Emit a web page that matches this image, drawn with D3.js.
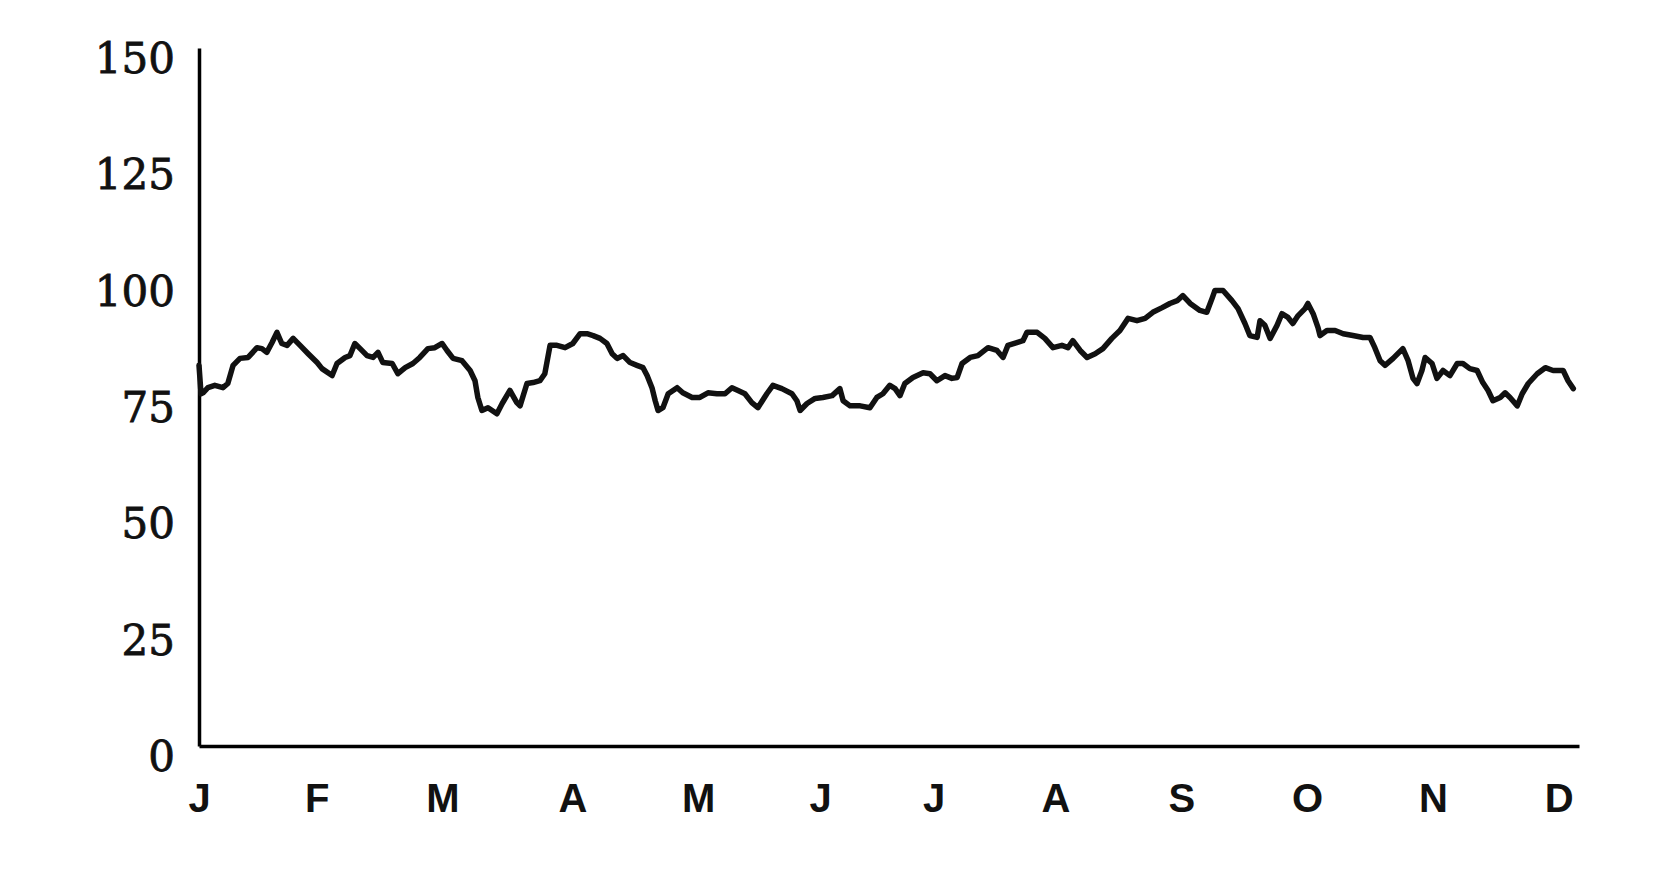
<!DOCTYPE html>
<html>
<head>
<meta charset="utf-8">
<script src="https://cdn.jsdelivr.net/npm/d3@7"></script>
<style>
  html, body { margin: 0; padding: 0; background: #fff; }
  svg { display: block; }
</style>
</head>
<body>
<svg id="chart" width="1663" height="870"></svg>
<script>
// ---- data ----
const monthLabels = ["J","F","M","A","M","J","J","A","S","O","N","D"];
const monthLabelDays = [0, 29, 60, 92, 123, 153, 181, 211, 242, 273, 304, 335];
const yTickValues = [0, 25, 50, 75, 100, 125, 150];

const days = [
  0, 0.5, 1.0, 2.2, 3.9, 5.9, 7.1, 8.4, 10.1, 12.1, 14.3, 15.5, 16.7, 18.0, 19.2, 20.4, 21.7, 23.2, 24.9, 26.9,
  29.1, 30.3, 32.8, 34.0, 36.0, 37.2, 38.4, 39.7, 41.4, 42.9, 44.1, 45.3, 47.6, 49.0, 50.8, 52.7, 54.4, 56.4, 58.1, 59.9,
  61.1, 62.6, 64.8, 66.8, 68.0, 68.7, 69.7, 71.2, 73.4, 74.7, 76.6, 78.3, 79.1, 80.8, 82.3, 84.0, 85.2, 86.5, 88.2, 90.2,
  92.1, 93.9, 95.6, 97.1, 98.8, 100.5, 101.8, 103.0, 104.5, 106.2, 107.9, 109.4, 110.4, 111.6, 112.4, 113.1, 114.3, 115.6, 117.8, 119.2,
  121.5, 123.4, 125.4, 127.6, 129.6, 131.3, 132.8, 134.5, 136.2, 137.7, 139.9, 141.4, 143.6, 146.1, 147.3, 148.1, 149.8, 151.8, 153.7, 156.0,
  157.9, 158.7, 160.4, 162.9, 165.3, 167.0, 168.5, 170.2, 171.5, 172.7, 173.9, 175.9, 178.4, 180.1, 181.8, 183.8, 185.5, 186.8, 188.0, 190.0,
  191.9, 194.4, 196.6, 198.1, 199.3, 201.5, 203.0, 204.0, 206.5, 208.4, 210.4, 212.6, 214.1, 215.3, 217.1, 218.8, 220.8, 222.7, 224.9, 226.9,
  228.9, 231.1, 233.1, 235.0, 237.3, 239.2, 241.0, 242.4, 244.2, 246.6, 248.3, 249.6, 250.3, 252.3, 254.5, 256.0, 257.7, 258.9, 260.7, 261.4,
  262.6, 263.9, 265.6, 266.8, 268.3, 269.5, 270.8, 272.5, 273.2, 274.5, 275.7, 276.2, 277.9, 279.9, 281.9, 284.3, 286.8, 288.5, 289.7, 291.0,
  292.2, 294.2, 296.6, 297.9, 299.1, 300.1, 301.3, 302.1, 303.8, 305.0, 306.5, 308.2, 310.0, 311.4, 313.1, 314.9, 316.3, 317.6, 318.8, 320.6,
  321.8, 323.0, 324.8, 326.0, 327.5, 329.7, 331.7, 333.6, 336.1, 337.3, 338.6
];
const values = [
  81.8, 75.7, 75.9, 77.0, 77.5, 77.0, 77.9, 81.8, 83.3, 83.5, 85.6, 85.4, 84.6, 86.7, 88.9, 86.5, 86.1, 87.6, 86.1, 84.3,
  82.4, 81.1, 79.6, 82.2, 83.5, 83.9, 86.5, 85.4, 83.9, 83.5, 84.6, 82.4, 82.2, 80.0, 81.3, 82.2, 83.5, 85.4, 85.6, 86.5,
  85.0, 83.3, 82.8, 80.7, 78.5, 74.9, 72.1, 72.7, 71.4, 73.6, 76.4, 73.8, 73.1, 77.9, 78.1, 78.5, 80.0, 86.1, 86.1, 85.6,
  86.5, 88.6, 88.6, 88.2, 87.6, 86.5, 84.3, 83.3, 83.9, 82.4, 81.8, 81.3, 79.6, 77.0, 74.2, 72.1, 72.7, 75.7, 77.0, 75.9,
  74.9, 74.9, 75.9, 75.7, 75.7, 77.0, 76.4, 75.7, 73.8, 72.7, 75.7, 77.5, 76.8, 75.7, 74.2, 72.1, 73.6, 74.7, 74.9, 75.3,
  76.8, 74.2, 73.1, 73.1, 72.7, 74.9, 75.7, 77.5, 76.8, 75.3, 77.9, 79.2, 80.2, 80.0, 78.5, 79.6, 79.0, 79.2, 82.2, 83.5,
  83.9, 85.6, 85.0, 83.5, 86.1, 86.7, 87.1, 88.9, 88.9, 87.6, 85.6, 86.1, 85.6, 87.1, 85.0, 83.5, 84.3, 85.4, 87.6, 89.3,
  91.9, 91.4, 91.9, 93.2, 94.2, 95.1, 95.7, 96.8, 95.1, 93.6, 93.2, 96.2, 97.9, 97.9, 95.7, 94.0, 90.8, 88.2, 87.8, 91.4,
  90.4, 87.6, 90.4, 92.9, 92.1, 90.8, 92.5, 94.0, 95.1, 92.9, 89.9, 88.2, 89.3, 89.3, 88.6, 88.2, 87.8, 87.8, 85.6, 82.8,
  81.8, 83.3, 85.4, 82.8, 79.0, 77.9, 80.7, 83.5, 82.2, 79.0, 80.7, 79.6, 82.2, 82.2, 81.1, 80.7, 78.1, 76.4, 74.2, 74.9,
  75.9, 74.9, 73.1, 75.7, 77.9, 80.0, 81.3, 80.7, 80.7, 78.5, 76.8
];

// ---- layout ----
const svg = d3.select("#chart");
const x = d3.scaleLinear().domain([0, 340]).range([199, 1579]);
const y = d3.scaleLinear().domain([0, 150]).range([746, 48]);

// y axis
const yAxis = svg.append("g")
  .attr("transform", `translate(${x(0)},0)`)
  .call(d3.axisLeft(y).tickValues(yTickValues).tickSize(0).tickSizeOuter(0).tickPadding(24));
yAxis.select(".domain").attr("stroke", "#000").attr("stroke-width", 3.5);
yAxis.selectAll("text")
  .attr("font-family", "'DejaVu Serif', 'Liberation Serif', serif")
  .attr("font-size", 42)
  .attr("fill", "#111")
  .attr("stroke", "#111")
  .attr("stroke-width", 0.8)
  .attr("dy", "0.58em");

// x axis
const xAxis = svg.append("g")
  .attr("transform", `translate(0,${y(0)})`)
  .call(d3.axisBottom(x).tickValues(monthLabelDays)
    .tickFormat((d, i) => monthLabels[i]).tickSize(0).tickSizeOuter(0).tickPadding(0));
xAxis.select(".domain").attr("stroke", "#000").attr("stroke-width", 3.5);
xAxis.selectAll("text")
  .attr("font-family", "'Liberation Sans', Arial, sans-serif")
  .attr("font-weight", "bold")
  .attr("font-size", 40)
  .attr("fill", "#111")
  .attr("dy", 0)
  .attr("y", 66);

// line
const series = days.map((d, i) => ({ d, v: values[i] }));
const line = d3.line().x(p => x(p.d)).y(p => y(p.v));
svg.append("path")
  .datum(series)
  .attr("d", line)
  .attr("fill", "none")
  .attr("stroke", "#111")
  .attr("stroke-width", 5.5)
  .attr("stroke-linejoin", "round")
  .attr("stroke-linecap", "round");
</script>
</body>
</html>
